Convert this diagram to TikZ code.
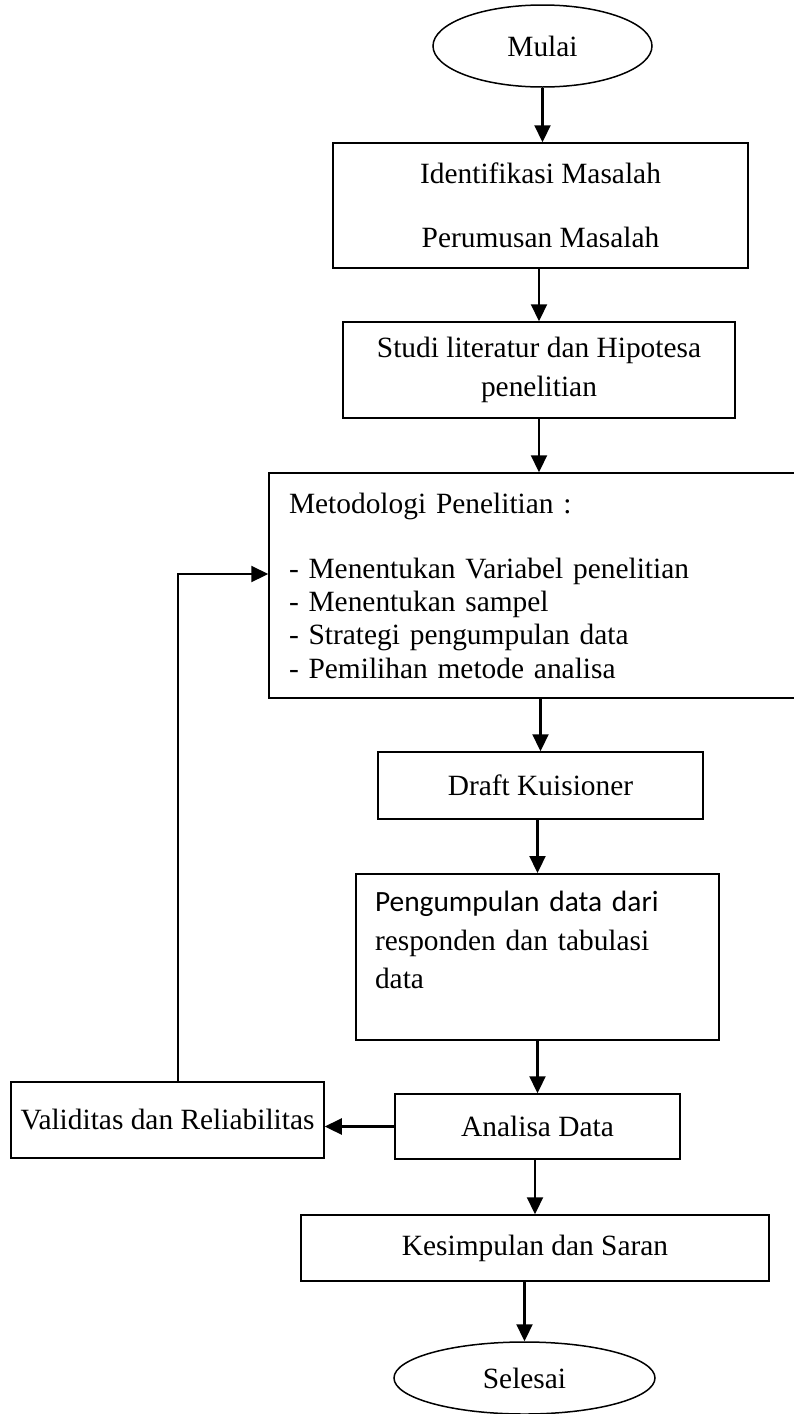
\documentclass[tikz,border=0pt]{standalone}
\usepackage{fontspec}
\setmainfont{Liberation Serif}
\newfontfamily\calibrifont{Carlito}
\usetikzlibrary{shapes.geometric}
\usetikzlibrary{arrows.meta}

\begin{document}
\begin{tikzpicture}[x=1pt,y=-1pt,font=\fontsize{29.4}{33.5}\selectfont]

\tikzset{flow box/.style={draw, line width=1.5pt, inner sep=0pt, align=center,
    minimum width=#1},
  flow box/.default=300pt,
  end oval/.style={draw, ellipse, line width=1.5pt, inner sep=0pt},
  flow arrow/.style={-{Triangle[length=17pt,width=16pt]}, line width=2.2pt}
}

\useasboundingbox (0,0) rectangle (793,1414);

\node[end oval, minimum width=219pt, minimum height=82pt] (mulai) at (542.5,46) {Mulai};
\node[flow box=415pt, minimum height=125pt] (masalah) at (540.5,205.5)
  {Identifikasi Masalah\\[31pt]Perumusan Masalah};
\node[flow box=392pt, minimum height=96pt] (studi) at (539,370)
  {Studi literatur dan Hipotesa\\[6pt]penelitian};
\node[flow box=531pt, minimum height=225pt, align=left, text width=491pt,
  inner xsep=20pt, font=\fontsize{29.4}{33.3}\selectfont] (metode) at (534.5,585.5)
  {Metodologi Penelitian :\\[31.7pt]- Menentukan Variabel penelitian\\
   - Menentukan sampel\\- Strategi pengumpulan data\\- Pemilihan metode analisa};
\node[flow box=325pt, minimum height=67pt] (draft) at (540.5,785.5) {Draft Kuisioner};
\node[flow box=363pt, align=left, text width=325pt, inner xsep=19pt,
  font=\fontsize{29.4}{38.5}\selectfont, anchor=north] (kumpul) at (537.5,873)
  {\rule{0pt}{38pt}{\calibrifont Pengumpulan data dari}\\responden dan tabulasi\\
   data\rule[-51pt]{0pt}{51pt}};
\node[flow box=285pt, minimum height=65pt] (analisa) at (537.5,1126.5) {Analisa Data};
\node[flow box=313pt, minimum height=76pt] (valid) at (167.5,1120)
  {Validitas dan Reliabilitas};
\node[flow box=468pt, minimum height=66pt] (simpul) at (535,1248)
  {Kesimpulan dan Saran};
\node[end oval, minimum width=261pt, minimum height=72pt] (selesai) at (524.5,1378) {Selesai};

\coordinate (balik) at (178,574);

\draw[flow arrow] (mulai.south) -- (mulai.south |- masalah.north);
\draw[flow arrow] (studi.north |- masalah.south) -- (studi.north);
\draw[flow arrow] (studi.south) -- (studi.south |- metode.north);
\draw[flow arrow] (draft.north |- metode.south) -- (draft.north);
\draw[flow arrow] (kumpul.north |- draft.south) -- (kumpul.north);
\draw[flow arrow] (kumpul.south) -- (analisa.north);
\draw[flow arrow] (analisa.west) -- (analisa.west -| valid.east);
\draw[flow arrow] (balik |- valid.north) -- (balik) -- (balik -| metode.west);
\draw[flow arrow] (simpul.north |- analisa.south) -- (simpul.north);
\draw[flow arrow] (selesai.north |- simpul.south) -- (selesai.north);

\end{tikzpicture}
\end{document}
